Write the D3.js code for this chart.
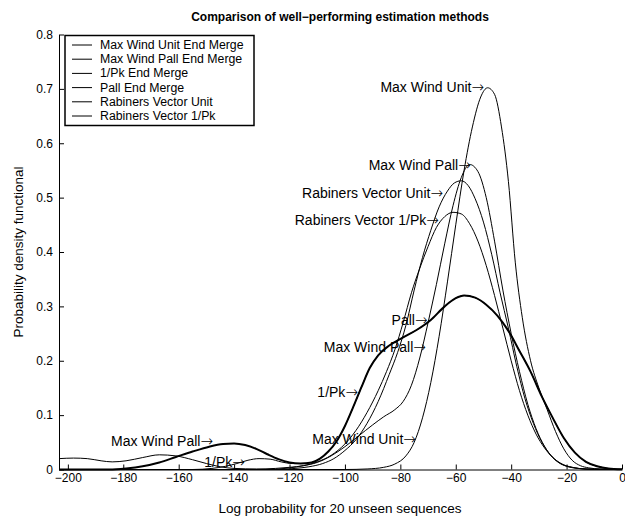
<!DOCTYPE html>
<html><head><meta charset="utf-8">
<script src="https://cdn.jsdelivr.net/npm/d3@7"></script>
<style>body{margin:0;background:#fff} text{font-family:"Liberation Sans",Arial,Helvetica,sans-serif;fill:#000}</style>
</head><body><svg id="c" width="625" height="521"></svg>
<script>
// ---- data ----
const seriesNames = ["Max Wind Unit End Merge","Max Wind Pall End Merge","1/Pk End Merge","Pall End Merge","Rabiners Vector Unit","Rabiners Vector 1/Pk"];
const maxWindUnit = [[-203.2,0],[-100,0],[-92,0.001],[-86,0.004],[-82,0.01],[-78,0.025],[-75,0.05],[-72,0.095],[-69,0.16],[-66,0.245],[-63,0.345],[-60,0.45],[-57,0.55],[-54,0.63],[-51,0.685],[-48.5,0.702],[-46,0.69],[-43.5,0.63],[-41,0.53],[-38.5,0.38],[-36,0.28],[-33,0.2],[-30,0.15],[-27,0.11],[-24,0.07],[-21,0.038],[-18,0.017],[-15,0.007],[-12,0.003],[-8,0.001],[0,0]];
const maxWindPall = [[-203.2,0.02],[-198,0.021],[-193,0.02],[-188,0.016],[-184,0.014],[-179,0.016],[-173,0.022],[-167,0.027],[-161,0.025],[-155,0.018],[-150,0.011],[-145,0.005],[-140,0.002],[-132,0.001],[-125,0.002],[-120,0.004],[-115,0.007],[-110,0.013],[-105,0.025],[-100,0.042],[-95,0.062],[-90,0.082],[-86,0.097],[-82,0.11],[-79,0.125],[-76,0.155],[-73,0.205],[-70,0.27],[-67,0.34],[-64,0.415],[-61,0.485],[-58,0.537],[-55,0.561],[-52,0.548],[-49,0.5],[-46,0.42],[-43,0.33],[-40,0.25],[-37,0.18],[-34,0.12],[-31,0.075],[-28,0.043],[-25,0.022],[-22,0.01],[-18,0.004],[-13,0.001],[0,0]];
const onePkEnd = [[-203.2,0],[-155,0],[-148,0.002],[-143,0.006],[-139,0.011],[-135,0.017],[-131,0.02],[-127,0.019],[-123,0.014],[-119,0.011],[-116,0.011],[-112,0.013],[-109,0.02],[-106,0.033],[-103,0.052],[-100,0.08],[-97,0.115],[-94,0.152],[-91,0.187],[-88,0.21],[-84,0.228],[-79,0.243],[-74,0.257],[-69,0.275],[-64,0.3],[-60,0.315],[-57,0.32],[-53,0.316],[-49,0.303],[-45,0.283],[-41,0.255],[-37,0.218],[-33,0.18],[-29,0.135],[-25,0.095],[-21,0.058],[-17,0.031],[-13,0.014],[-9,0.006],[-5,0.002],[0,0.0005]];
const pallEnd = [[-203.2,0],[-185,0],[-179,0.002],[-173,0.006],[-167,0.013],[-161,0.023],[-155,0.033],[-149,0.042],[-144,0.047],[-140,0.048],[-136,0.045],[-132,0.038],[-128,0.028],[-124,0.019],[-120,0.013],[-116,0.011],[-112,0.013],[-109,0.02],[-106,0.033],[-103,0.052],[-100,0.08],[-97,0.115],[-94,0.152],[-91,0.187],[-88,0.21],[-84,0.228],[-79,0.243],[-74,0.257],[-69,0.275],[-64,0.3],[-60,0.315],[-57,0.32],[-53,0.316],[-49,0.303],[-45,0.283],[-41,0.255],[-37,0.218],[-33,0.18],[-29,0.135],[-25,0.095],[-21,0.058],[-17,0.031],[-13,0.014],[-9,0.006],[-5,0.002],[0,0.0005]];
const rabUnit = [[-203.2,0],[-125,0],[-118,0.002],[-113,0.005],[-108,0.011],[-104,0.02],[-100,0.035],[-96,0.055],[-92,0.085],[-88,0.125],[-84,0.175],[-81,0.215],[-78,0.265],[-75,0.33],[-72,0.39],[-69,0.44],[-66,0.483],[-63,0.512],[-60.5,0.527],[-58,0.531],[-55.5,0.522],[-53,0.498],[-50,0.455],[-47,0.395],[-44,0.325],[-41,0.26],[-38,0.19],[-35,0.13],[-32,0.085],[-29,0.051],[-26,0.028],[-23,0.014],[-20,0.006],[-16,0.002],[-10,0],[0,0]];
const rabOnePk = [[-203.2,0],[-128,0],[-120,0.003],[-115,0.007],[-110,0.014],[-105,0.026],[-100,0.047],[-96,0.072],[-92,0.105],[-88,0.145],[-85,0.18],[-82,0.22],[-79,0.27],[-76,0.325],[-73,0.37],[-70,0.41],[-67,0.445],[-64,0.465],[-61,0.473],[-58,0.47],[-55,0.452],[-52,0.42],[-49,0.375],[-46,0.32],[-43,0.26],[-40,0.2],[-37,0.145],[-34,0.1],[-31,0.065],[-28,0.04],[-25,0.022],[-22,0.011],[-18,0.004],[-13,0.001],[0,0]];
const xTicks = [-200,-180,-160,-140,-120,-100,-80,-60,-40,-20,0];
const xTickLabels = ["\u2212200","\u2212180","\u2212160","\u2212140","\u2212120","\u2212100","\u221280","\u221260","\u221240","\u221220","0"];
const yTicks = [0,0.1,0.2,0.3,0.4,0.5,0.6,0.7,0.8];
const yTickLabels = ["0","0.1","0.2","0.3","0.4","0.5","0.6","0.7","0.8"];
const annotText = ["Max Wind Unit","Max Wind Pall","Rabiners Vector Unit","Rabiners Vector 1/Pk","Pall","Max Wind Pall","1/Pk","Max Wind Unit","Max Wind Pall","1/Pk"];
const annotX = [-49.8,-54.6,-64.6,-66.1,-70.2,-70.8,-95.3,-74.4,-147.6,-136.1];
const annotY = [0.704,0.56,0.509,0.459,0.275,0.226,0.143,0.056,0.052,0.014];

// ---- drawing ----
const svg = d3.select("#c");
const x = d3.scaleLinear().domain([-203.2,0]).range([59,622]);
const y = d3.scaleLinear().domain([0,0.8]).range([469.5,34.5]);

const allSeries = [maxWindUnit, maxWindPall, onePkEnd, pallEnd, rabUnit, rabOnePk];
const widths = [1,1,1,2,1,1];
const line = d3.line().x(d=>x(d[0])).y(d=>y(d[1])).curve(d3.curveMonotoneX);

const gl = svg.append("g");
allSeries.forEach((s,i)=>{
  gl.append("path").attr("d", line(s)).attr("fill","none").attr("stroke","#000")
    .attr("stroke-width", widths[i]).attr("stroke-linejoin","round");
});

const fontTick = 12;
const xa = svg.append("g").attr("transform","translate(0,469.5)")
  .call(d3.axisBottom(x).tickValues(xTicks).tickFormat((d,i)=>xTickLabels[i]).tickSizeInner(-5).tickSizeOuter(0).tickPadding(4));
const ya = svg.append("g").attr("transform","translate(59,0)")
  .call(d3.axisLeft(y).tickValues(yTicks).tickFormat((d,i)=>yTickLabels[i]).tickSizeInner(-5).tickSizeOuter(0).tickPadding(6));
[xa,ya].forEach(a=>{
  a.selectAll("path,line").attr("stroke","#000").attr("stroke-width",1);
  a.selectAll("text").attr("font-size",fontTick).attr("font-family","Liberation Sans, Arial, sans-serif").attr("fill","#000");
});

// annotations: text ending in a right arrow whose tip marks the point
annotText.forEach((t,i)=>{
  const tx = svg.append("text").attr("x",x(annotX[i])).attr("y",y(annotY[i]))
    .attr("text-anchor","end").attr("dominant-baseline","central")
    .attr("font-size",14);
  tx.append("tspan").text(t);
  tx.append("tspan").attr("font-family","DejaVu Sans").attr("font-size",15).attr("font-weight",200).text("\u2192");
});

// legend
const lg = svg.append("g");
lg.append("rect").attr("x",65).attr("y",35.5).attr("width",189).attr("height",90)
  .attr("fill","#fff").attr("stroke","#000").attr("stroke-width",1.5);
seriesNames.forEach((n,i)=>{
  const yy = 45 + i*14.2;
  lg.append("line").attr("x1",72).attr("x2",92).attr("y1",yy).attr("y2",yy).attr("stroke","#000").attr("stroke-width",1);
  lg.append("text").attr("x",100).attr("y",yy).attr("dominant-baseline","central").attr("font-size",12.3).text(n);
});

// titles
svg.append("text").attr("x",340).attr("y",17).attr("text-anchor","middle").attr("dominant-baseline","central")
  .attr("font-size",12).attr("font-weight","bold").text("Comparison of well\u2212performing estimation methods");
svg.append("text").attr("x",340).attr("y",508).attr("text-anchor","middle").attr("dominant-baseline","central")
  .attr("font-size",13.5).text("Log probability for 20 unseen sequences");
svg.append("text").attr("transform","translate(18,252) rotate(-90)").attr("text-anchor","middle").attr("dominant-baseline","central")
  .attr("font-size",13.5).text("Probability density functional");
</script></body></html>
